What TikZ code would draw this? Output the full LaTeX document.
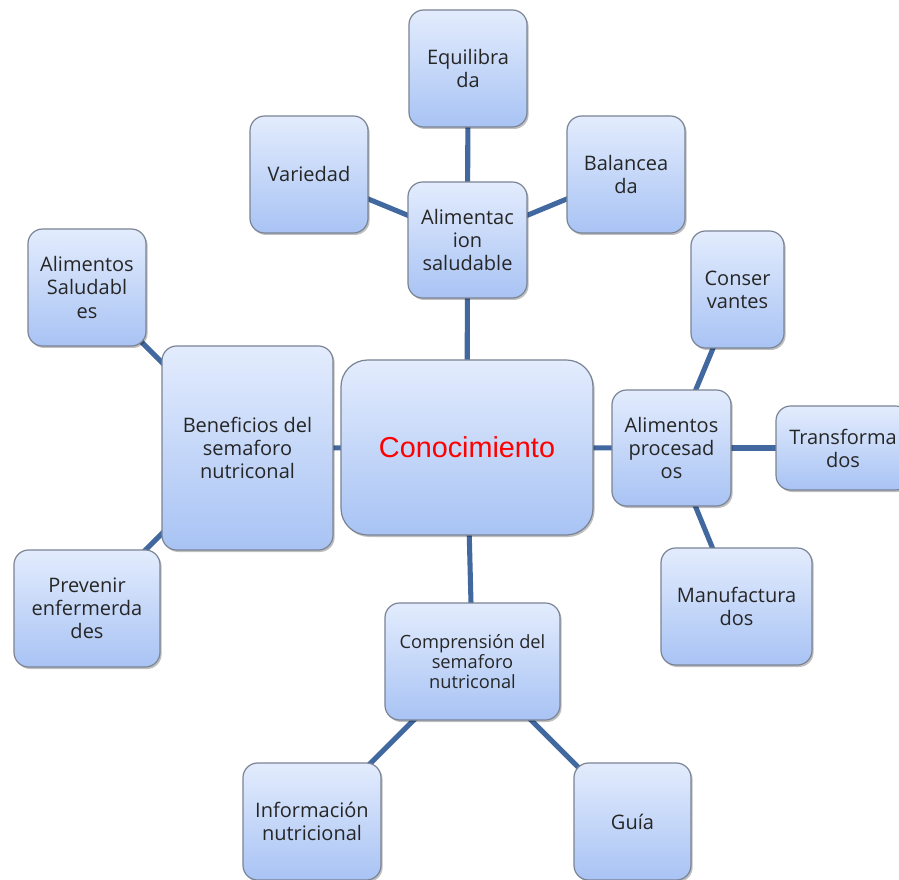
\documentclass[tikz,border=0pt]{standalone}
\usepackage{fontspec}
\setmainfont{Open Sans}
\newfontfamily\arialf{Liberation Sans}
\usetikzlibrary{shadows,backgrounds}
\definecolor{linkblue}{HTML}{4169A0}
\definecolor{boxtop}{HTML}{E3ECFD}
\definecolor{boxbot}{HTML}{A8C3F4}
\definecolor{boxline}{HTML}{7A8494}
\tikzset{
  box/.style 2 args={draw=boxline, line width=0.9pt, rounded corners=11pt,
    top color=boxtop, bottom color=boxbot, align=center,
    minimum width=#1*0.75pt, minimum height=#2*0.75pt, inner sep=2pt,
    font=\fontsize{15}{17.3}\selectfont, text=black!85,
    drop shadow={shadow xshift=1.2pt, shadow yshift=-1.5pt, opacity=0.25, fill=black}},
  link/.style={draw=linkblue, line width=3.8pt}
}
\begin{document}
\begin{tikzpicture}[x=0.75pt,y=-0.75pt]
\clip (0,0) rectangle (899,880);
\node[box={118}{117}] (equi) at (468,68.5) {Equilibra\\da};
\node[box={118}{117}] (vari) at (309,174.5) {Variedad};
\node[box={118}{117}] (bala) at (626,174.5) {Balancea\\da};
\node[box={119}{116}] (alis) at (467.5,240) {Alimentac\\ion\\saludable};
\node[box={118}{117}] (asal) at (87,287.5) {Alimentos\\Saludabl\\es};
\node[box={171}{204}] (bene) at (247.5,448) {Beneficios del\\semaforo\\nutriconal};
\node[box={252}{175}, rounded corners=20pt, font=\arialf\fontsize{21.6}{25}\selectfont, text=red] (cono) at (467,447.5) {Conocimiento};
\node[box={93}{117}] (cons) at (737.5,289.5) {Conser\\vantes};
\node[box={119}{116}] (proc) at (671.5,448) {Alimentos\\procesad\\os};
\node[box={134}{84}] (tran) at (843,448) {Transforma\\dos};
\node[box={151}{117}] (manu) at (736.5,606.5) {Manufactura\\dos};
\node[box={146}{117}] (prev) at (87,608.5) {Prevenir\\enfermerda\\des};
\node[box={175}{117}, font=\fontsize{13.7}{15}\selectfont] (comp) at (472.5,661.5) {Comprensión del\\semaforo\\nutriconal};
\node[box={138}{117}] (info) at (312,821.5) {Información\\nutricional};
\node[box={117}{117}] (guia) at (632.5,821.5) {Guía};
\begin{pgfonlayer}{background}
\fill[white] (0,0) rectangle (899,880);
\draw[link] (equi.center) -- (alis.center);
\draw[link] (vari.center) -- (alis.center);
\draw[link] (bala.center) -- (alis.center);
\draw[link] (alis.center) -- (cono.center);
\draw[link] (asal.center) -- (bene.center);
\draw[link] (prev.center) -- (bene.center);
\draw[link] (bene.center) -- (cono.center);
\draw[link] (cono.center) -- (proc.center);
\draw[link] (cons.center) -- (proc.center);
\draw[link] (proc.center) -- (tran.center);
\draw[link] (manu.center) -- (proc.center);
\draw[link] (cono.center) -- (comp.center);
\draw[link] (comp.center) -- (info.center);
\draw[link] (comp.center) -- (guia.center);
\end{pgfonlayer}
\end{tikzpicture}
\end{document}
